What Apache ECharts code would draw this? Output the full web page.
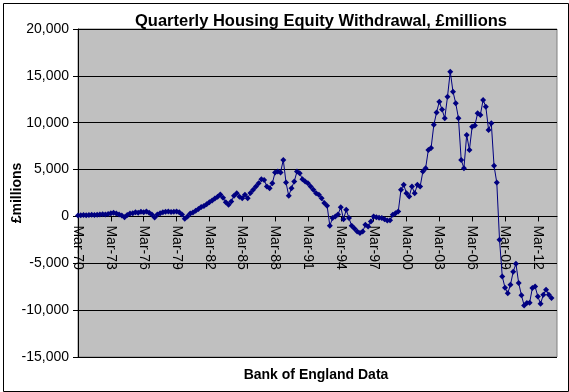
<!DOCTYPE html>
<html><head><meta charset="utf-8">
<script src="https://cdn.jsdelivr.net/npm/echarts@6/dist/echarts.min.js"></script>
<style>html,body{margin:0;padding:0;background:#fff}#c{width:569px;height:392px}</style>
</head><body><div id="c"></div>
<script>
const titleText = 'Quarterly Housing Equity Withdrawal, £millions';
const yAxisName = '£millions';
const xAxisName = 'Bank of England Data';
const months = ['Mar','Jun','Sep','Dec'];
const startYear = 1970, endYear = 2013;
const yMin = -15000, yMax = 20000, yStep = 5000;
const equityWithdrawal = [
  100,120,150,130,  150,170,160,180,  200,220,200,250,  350,400,300,200,
  100,-100,150,300, 350,450,400,500,  450,520,400,200,  -110,200,350,450,
  500,520,480,500,  520,450,200,-260, 0,300,420,600,    800,1000,1100,1300,
  1500,1700,1900,2100, 2350,2000,1500,1240, 1600,2200,2480,2100, 1950,2300,1950,2500,
  2840,3200,3550,3970, 3900,3190,3020,3550, 4680,4790,4700,6030, 3610,2200,3020,3720,
  4790,4610,3970,3720, 3550,3190,2840,2480, 2300,1950,1420,1150, -1000,-180,0,200,
  990,-290,700,-180, -1000,-1300,-1610,-1780, -1610,-900,-1080,-540, 0,-100,-150,-180,
  -290,-430,-400,170, 350,520,2840,3370, 2480,2120,3190,2480, 3370,3190,4790,5150,
  7100,7300,9770,11100, 12250,11400,10480,12780, 15450,13310,12080,10480, 6030,5150,8700,7100,
  9580,9700,11010,10830, 12430,11700,9230,9950, 5400,3610,-2490,-6400, -7600,-8200,-7290,-5900,
  -5050,-7110,-8400,-9500, -9240,-9200,-7640,-7470, -8540,-9320,-8360,-7820, -8360,-8710
];
const categories = [];
for (let y = startYear; y <= endYear; y++) for (const m of months) categories.push(m + '-' + String(y % 100).padStart(2,'0'));

const fmt = v => (v < 0 ? '-' : '') + Math.abs(v).toString().replace(/\B(?=(\d{3})+(?!\d))/g, ',');
const font = 'Arial, "Liberation Sans", sans-serif';
const gridTop = 29, gridH = 328;
const zeroOffset = -gridH * (0 - yMin) / (yMax - yMin);
const chart = echarts.init(document.getElementById('c'), null, {renderer:'canvas'});
chart.setOption({
  animation: false,
  backgroundColor: '#fff',
  title: { text: titleText, left: 316, top: 8, textAlign: 'center',
    textStyle: { fontFamily: font, fontSize: 16.5, fontWeight: 'bold', color: '#000' } },
  grid: { left: 78, top: gridTop, width: 479, height: gridH, containLabel: false, outerBoundsMode: 'none',
    show: true, backgroundColor: '#C0C0C0', borderColor: '#808080', borderWidth: 1 },
  xAxis: {
    type: 'category', data: categories, boundaryGap: false, position: 'bottom', offset: zeroOffset,
    axisLine: { onZero: false, lineStyle: { color: '#000', width: 1 } },
    axisTick: { show: true, interval: i => i % 12 === 0, length: 5, lineStyle: { color: '#000' } },
    axisLabel: { interval: i => i % 12 === 0, rotate: -90, margin: 9, fontFamily: font, fontSize: 14, color: '#000' },
    splitLine: { show: false }
  },
  yAxis: {
    type: 'value', min: yMin, max: yMax, interval: yStep,
    axisLine: { show: true, lineStyle: { color: '#000' } },
    axisTick: { show: true, length: 5, lineStyle: { color: '#000' } },
    axisLabel: { formatter: fmt, fontFamily: font, fontSize: 14, color: '#000', margin: 9 },
    splitLine: { show: true, lineStyle: { color: '#000', width: 1 } }
  },
  graphic: [
    { type: 'rect', left: 1, top: 1, shape: { width: 565, height: 388 }, style: { fill: 'none', stroke: '#000', lineWidth: 1 }, silent: true, z: 100 },
    { type: 'text', x: 316, y: 375, style: { text: xAxisName, font: 'bold 14px ' + font, fill: '#000', textAlign: 'center', textVerticalAlign: 'middle' } },
    { type: 'text', x: 17, y: 193, rotation: Math.PI / 2, style: { text: yAxisName, font: 'bold 14px ' + font, fill: '#000', textAlign: 'center', textVerticalAlign: 'middle' } }
  ],
  series: [{
    type: 'line', data: equityWithdrawal,
    lineStyle: { color: '#000080', width: 1 },
    itemStyle: { color: '#000080' },
    symbol: 'diamond', symbolSize: 6, showAllSymbol: true
  }]
});
</script></body></html>
